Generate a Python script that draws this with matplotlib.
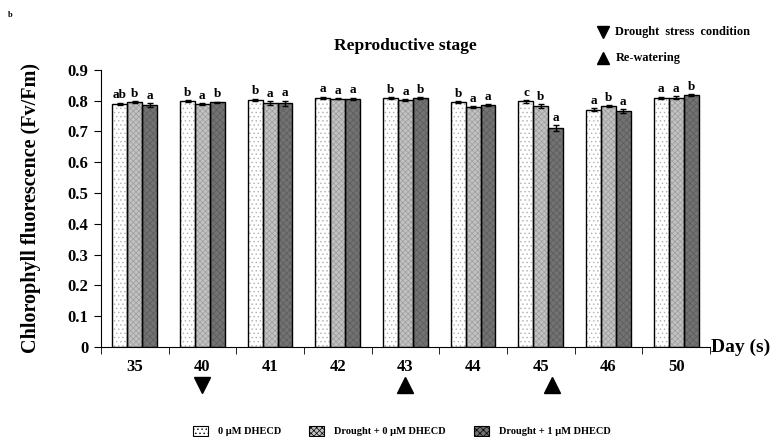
import matplotlib.pyplot as plt
import numpy as np
from matplotlib.patches import Patch

plt.rcParams['font.family'] = ['Liberation Serif', 'DejaVu Serif']
plt.rcParams['font.weight'] = 'bold'
plt.rcParams['hatch.linewidth'] = 0.5

days = ['35', '40', '41', '42', '43', '44', '45', '46', '50']
series = ['0 \u03bcM DHECD', 'Drought + 0 \u03bcM DHECD', 'Drought + 1 \u03bcM DHECD']

# Fv/Fm means per day
ctrl = [0.790, 0.798, 0.803, 0.810, 0.808, 0.795, 0.798, 0.771, 0.810]
dro0 = [0.795, 0.789, 0.792, 0.807, 0.802, 0.779, 0.783, 0.782, 0.810]
dro1 = [0.787, 0.795, 0.792, 0.806, 0.809, 0.786, 0.710, 0.767, 0.818]

err_ctrl = [0.004, 0.003, 0.004, 0.003, 0.003, 0.004, 0.005, 0.005, 0.003]
err_dro0 = [0.003, 0.003, 0.006, 0.002, 0.002, 0.003, 0.007, 0.003, 0.004]
err_dro1 = [0.006, 0.002, 0.008, 0.004, 0.002, 0.002, 0.010, 0.006, 0.004]

letters_ctrl = ['ab', 'b', 'b', 'a', 'b', 'b', 'c', 'a', 'a']
letters_dro0 = ['b', 'a', 'a', 'a', 'a', 'a', 'b', 'b', 'a']
letters_dro1 = ['a', 'b', 'a', 'a', 'b', 'a', 'a', 'a', 'b']

drought_day = '40'
rewater_days = ['43', '45']

faces = ['white', '#c2c2c2', '#727272']
hatches = ['....', 'xxxxxx', 'xxxxx']
hatch_cols = ['#b0b0b0', '#9c9c9c', '#5c5c5c']

fig = plt.figure(figsize=(7.76, 4.37), dpi=100)
ax = fig.add_axes([0.130, 0.206, 0.785, 0.634])

x = np.arange(len(days))
w = 0.22
vals = [ctrl, dro0, dro1]
errs = [err_ctrl, err_dro0, err_dro1]
lets = [letters_ctrl, letters_dro0, letters_dro1]
for i in range(3):
    pos = x + (i - 1) * w
    ax.bar(pos, vals[i], w, color=faces[i], hatch=hatches[i],
           edgecolor=hatch_cols[i], linewidth=0, zorder=2)
    ax.bar(pos, vals[i], w, color='none', edgecolor='black', linewidth=1.0, zorder=3)
    ax.errorbar(pos, vals[i], yerr=errs[i], fmt='none', ecolor='black',
                elinewidth=1, capsize=2, capthick=1, zorder=4)
    for p, v, e, t in zip(pos, vals[i], errs[i], lets[i]):
        ax.text(p, v + e + 0.004, t, ha='center', va='bottom', fontsize=9.5,
                fontweight='bold')

ax.set_xlim(-0.5, len(days) - 0.5)
ax.set_ylim(0, 0.9)
ax.set_yticks(np.arange(0, 0.91, 0.1))
ax.set_yticklabels(['0'] + ['%.1f' % v for v in np.arange(0.1, 0.91, 0.1)],
                   fontsize=12, fontweight='bold')
ax.set_xticks(x)
ax.set_xticklabels(days, fontsize=12, fontweight='bold')
ax.set_xticks(np.arange(-0.5, len(days)), minor=True)
ax.tick_params(axis='x', which='major', length=0, pad=9)
ax.tick_params(axis='x', which='minor', length=5, direction='out')
ax.tick_params(axis='y', length=5, direction='out', pad=4)
for s in ['top', 'right']:
    ax.spines[s].set_visible(False)

ax.set_ylabel('Chlorophyll fluorescence (Fv/Fm)', fontsize=14.5, fontweight='bold')
ax.yaxis.set_label_coords(-0.098, 0.5)
ax.set_title('Reproductive stage', fontsize=12.5, fontweight='bold', pad=14)
ax.text(1.002, 0.0, 'Day (s)', transform=ax.transAxes, ha='left', va='center',
        fontsize=14, fontweight='bold')

# treatment markers below the day labels
ax.plot(days.index(drought_day), -0.125, marker='v', color='black', ms=11,
        clip_on=False, zorder=5)
ax.plot(days.index(rewater_days[0]), -0.125, marker='^', color='black', ms=11,
        clip_on=False, zorder=5)
ax.plot(days.index(rewater_days[1]) + 0.17, -0.125, marker='^', color='black', ms=11,
        clip_on=False, zorder=5)

fig.text(0.010, 0.960, 'b', fontsize=6, fontweight='bold')
fig.lines.append(plt.Line2D([0.777], [0.927], marker='v', color='black', ms=9,
                            transform=fig.transFigure))
fig.text(0.793, 0.927, 'Drought  stress  condition', fontsize=8.8, fontweight='bold', va='center')
fig.lines.append(plt.Line2D([0.777], [0.867], marker='^', color='black', ms=9,
                            transform=fig.transFigure))
fig.text(0.793, 0.867, 'Re-watering', fontsize=8.8, fontweight='bold', va='center')

handles = [Patch(facecolor=faces[i], hatch=hatches[i], edgecolor='black', linewidth=0.8)
           for i in range(3)]
fig.legend(handles, series, loc='lower center', bbox_to_anchor=(0.518, -0.02), ncol=3,
           frameon=False, prop={'size': 7.5, 'weight': 'bold'}, handlelength=1.4,
           handleheight=1.1, columnspacing=2.7, handletextpad=1.0)

fig.savefig('out.png', dpi=100)
